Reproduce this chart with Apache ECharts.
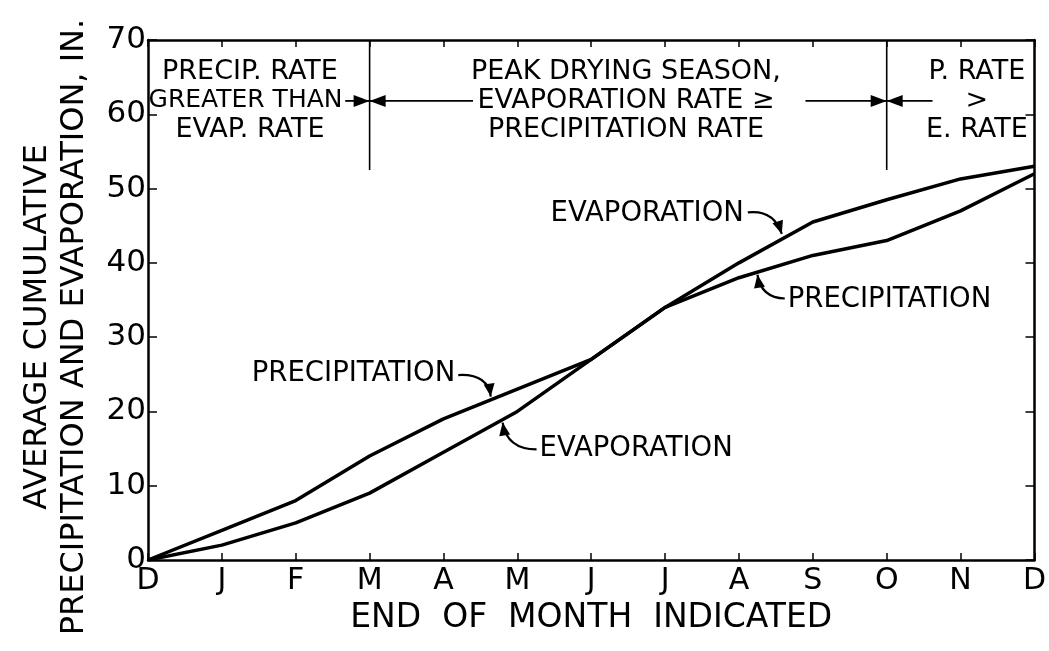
<!DOCTYPE html>
<html>
<head>
<meta charset="utf-8">
<script src="https://cdn.jsdelivr.net/npm/echarts@6/dist/echarts.min.js"></script>
<style>
html,body{margin:0;padding:0;background:#fff;}
#chart{width:1049px;height:651px;}
</style>
</head>
<body>
<div id="chart"></div>
<script>
// ---- data ----
const months = ['D','J','F','M','A','M','J','J','A','S','O','N','D'];
const precipitation = [0, 4, 8, 14, 19, 23, 27, 34, 38, 41, 43, 47, 52];
const evaporation   = [0, 2, 5, 9, 14.5, 20, 27, 34, 40, 45.5, 48.5, 51.3, 53];
const yTicks = [0, 10, 20, 30, 40, 50, 60, 70];

const FONT = '"DejaVu Sans", "Liberation Sans", sans-serif';
const BLACK = '#000';

const chart = echarts.init(document.getElementById('chart'), null, {renderer: 'canvas'});

const axisLine = {show: true, onZero: false, lineStyle: {color: BLACK, width: 2.5}};
const xTick = {show: true, inside: true, length: 7, lineStyle: {color: BLACK, width: 1.5}};
const yTick = {show: true, inside: true, length: 9, lineStyle: {color: BLACK, width: 1.5}};

chart.setOption({
  animation: false,
  backgroundColor: '#fff',
  grid: {left: 148, right: 14, top: 40, bottom: 91},
  xAxis: [{
    type: 'value', min: 0, max: months.length - 1, interval: 1,
    axisLine: axisLine, axisTick: xTick, splitLine: {show: false},
    axisLabel: {formatter: v => months[Math.round(v)], fontSize: 30, color: BLACK, fontFamily: FONT, margin: 6},
    name: 'END  OF  MONTH  INDICATED', nameLocation: 'middle', nameGap: 42,
    nameTextStyle: {fontSize: 33, color: BLACK, fontFamily: FONT}
  }, {
    type: 'value', position: 'top', min: 0, max: months.length - 1, interval: 1,
    axisLine: axisLine, axisTick: xTick, splitLine: {show: false}, axisLabel: {show: false}
  }],
  yAxis: [{
    type: 'value', position: 'left', min: yTicks[0], max: yTicks[yTicks.length - 1], interval: 10,
    axisLine: axisLine, axisTick: yTick,
    splitLine: {show: false},
    axisLabel: {fontSize: 31, color: BLACK, fontFamily: FONT, margin: 2}
  }, {
    type: 'value', position: 'right', min: yTicks[0], max: yTicks[yTicks.length - 1], interval: 10,
    axisLine: axisLine, axisTick: yTick,
    splitLine: {show: false}, axisLabel: {show: false}
  }],
  series: [{
    name: 'PRECIPITATION', type: 'line', symbol: 'none', smooth: false,
    lineStyle: {color: BLACK, width: 3.5},
    data: months.map((m, i) => [i, precipitation[i]])
  }, {
    name: 'EVAPORATION', type: 'line', symbol: 'none', smooth: false,
    lineStyle: {color: BLACK, width: 3.5},
    data: months.map((m, i) => [i, evaporation[i]])
  }]
});

// ---- annotations, positioned in data units and converted through the axes ----
const P = (x, y) => chart.convertToPixel({gridIndex: 0}, [x, y]);

function head(tip, from, len, half) {
  const dx = tip[0] - from[0], dy = tip[1] - from[1];
  const d = Math.hypot(dx, dy) || 1;
  const ux = dx / d, uy = dy / d;
  const bx = tip[0] - ux * len, by = tip[1] - uy * len;
  return {type: 'polygon', silent: true,
    shape: {points: [tip, [bx - uy * half, by + ux * half], [bx + uy * half, by - ux * half]]},
    style: {fill: BLACK}};
}
function seg(a, b, w) {
  return {type: 'line', silent: true, shape: {x1: a[0], y1: a[1], x2: b[0], y2: b[1]}, style: {stroke: BLACK, lineWidth: w}};
}
function txt(p, text, size, align, lh) {
  return {type: 'text', silent: true, x: p[0], y: p[1],
    style: {text: text, fontSize: size, fontFamily: FONT, fill: BLACK, align: align, verticalAlign: 'middle', lineHeight: lh || size}};
}
function curveArrow(s, c, t) {
  return [{type: 'bezierCurve', silent: true,
    shape: {x1: s[0], y1: s[1], cpx1: c[0], cpy1: c[1], x2: t[0], y2: t[1]},
    style: {stroke: BLACK, lineWidth: 2.2, fill: null}}, head(t, c, 13, 5.5)];
}

const seasonTop = 70, seasonBottom = 52.5, arrowY = 61.8;
const g = [];
// season dividers at end of March and end of October
[3, 10].forEach(ix => g.push(seg(P(ix, seasonTop), P(ix, seasonBottom), 1.6)));
// season texts
g.push(txt(P(1.38, 65.7), 'PRECIP. RATE', 27, 'center'));
g.push(txt(P(1.32, 61.8), 'GREATER THAN', 25, 'center'));
g.push(txt(P(1.38, 57.9), 'EVAP. RATE', 27, 'center'));
g.push(txt(P(6.47, 61.8), 'PEAK DRYING SEASON,\nEVAPORATION RATE ≥\nPRECIPITATION RATE', 27, 'center', 29));
g.push(txt(P(11.22, 61.8), 'P. RATE\n>\nE. RATE', 27, 'center', 29));
// horizontal arrows
const arrows = [[2.67, 3], [4.4, 3], [8.9, 10], [10.62, 10]];
arrows.forEach(a => {
  const s = P(a[0], arrowY), t = P(a[1], arrowY);
  g.push(seg(s, t, 1.8));
  g.push(head(t, s, 16, 6));
});
// curve labels
g.push(txt(P(5.45, 46.6), 'EVAPORATION', 27.5, 'left'));
g.push(...curveArrow(P(8.12, 46.8), P(8.47, 47.2), P(8.58, 43.9)));
g.push(txt(P(8.66, 35.0), 'PRECIPITATION', 27.5, 'left'));
g.push(...curveArrow(P(8.62, 35.2), P(8.30, 35.3), P(8.25, 38.4)));
g.push(txt(P(4.16, 25.0), 'PRECIPITATION', 27.5, 'right'));
g.push(...curveArrow(P(4.2, 24.9), P(4.6, 25.1), P(4.64, 22.0)));
g.push(txt(P(5.30, 15.0), 'EVAPORATION', 27.5, 'left'));
g.push(...curveArrow(P(5.26, 14.9), P(4.86, 14.9), P(4.80, 18.5)));
// y-axis title (two lines, reading upward)
g.push({type: 'text', silent: true, x: 56, y: 327, rotation: Math.PI / 2,
  style: {text: 'AVERAGE CUMULATIVE\nPRECIPITATION AND EVAPORATION, IN.', fontSize: 32, fontFamily: FONT,
    fill: BLACK, align: 'center', verticalAlign: 'middle', lineHeight: 37}});

chart.setOption({graphic: g});
</script>
</body>
</html>
